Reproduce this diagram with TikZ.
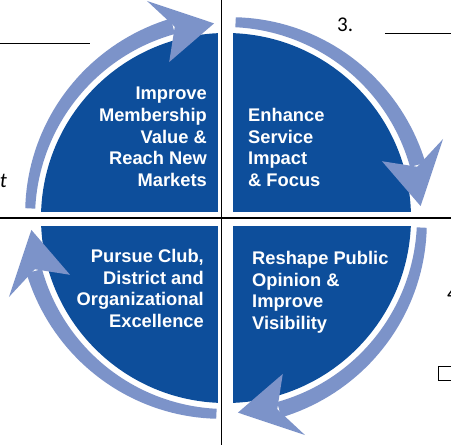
\documentclass[tikz,border=0pt]{standalone}
\usepackage{fontspec}
\setmainfont{Liberation Sans}
\newfontfamily\notefont{Carlito}
\definecolor{cycleblue}{RGB}{13,78,155}
\definecolor{ringblue}{RGB}{124,147,201}
\begin{document}
\begin{tikzpicture}[x=1pt,y=1pt,
    goal/.style={text=white,font=\bfseries\fontsize{18.3}{21.7}\selectfont,inner sep=0pt},
    ring/.style={fill=ringblue},
    gap/.style={fill=white},
    axis/.style={black,line width=1.2pt},
    blank/.style={black,line width=1pt},
    note/.style={font=\notefont\fontsize{21}{24}\selectfont,inner sep=0pt}]
    \useasboundingbox (-226,-227) rectangle (225,218);
    % disk split into four parts
    \fill[cycleblue](0,0) circle (185);
    \fill[gap](-8,-190) rectangle (7,190);
    \fill[gap](-190,-8) rectangle (190,6);
    % four arrows round the disk
    \fill[ring] plot[domain=177.2:105.5,samples=40] (\x:{201+6*(177.2-\x)/71.7}) -- (105.5:191) arc[start angle=105.5,end angle=177.2,radius=191] -- cycle;
    \fill[ring] (110:166) -- (93.5:195) -- (110:231) -- (105:198) -- cycle;
    \fill[ring] plot[domain=87.2:15.5,samples=40] (\x:{201+6*(87.2-\x)/71.7}) -- (15.5:191) arc[start angle=15.5,end angle=87.2,radius=191] -- cycle;
    \fill[ring] (20:166) -- (3.5:195) -- (20:231) -- (15:198) -- cycle;
    \fill[ring] plot[domain=-2.8:-74.5,samples=40] (\x:{201+6*(-2.8-\x)/71.7}) -- (-74.5:191) arc[start angle=-74.5,end angle=-2.8,radius=191] -- cycle;
    \fill[ring] (-70:166) -- (-86.5:195) -- (-70:231) -- (-75:198) -- cycle;
    \fill[ring] plot[domain=-92.8:-164.5,samples=40] (\x:{201+6*(-92.8-\x)/71.7}) -- (-164.5:191) arc[start angle=-164.5,end angle=-92.8,radius=191] -- cycle;
    \fill[ring] (-160:166) -- (-176.5:195) -- (-160:231) -- (-165:198) -- cycle;
    % cross lines
    \draw[axis](-4.5,-227) -- (-4.5,218);
    \draw[axis](-226,0) -- (225,0);
    % quadrant texts
    \node[goal,anchor=north east,align=right] (membership) at (-19,131) {Improve\\Membership\\Value \&\\Reach New\\Markets};
    \node[goal,anchor=north west,align=left] (service) at (22,110) {Enhance\\Service\\Impact\\\& Focus};
    \node[goal,anchor=north east,align=right] (excellence) at (-22,-31) {Pursue Club,\\District and\\Organizational\\Excellence};
    \node[goal,anchor=north west,align=left] (opinion) at (26,-33) {Reshape Public\\Opinion \&\\Improve\\Visibility};
    % bits of the page round it
    \node[note,anchor=base west] (three) at (111,187) {3.};
    \draw[blank](159,185) -- (230,185);
    \draw[blank](-230,175) -- (-136,175);
    \node[note,anchor=base east,font=\notefont\itshape\fontsize{21}{24}\selectfont] (tail) at (-219,31) {t};
    \node[note,anchor=base west] (four) at (221,-82) {4};
    \draw[blank](213,-148) rectangle (229,-162);
\end{tikzpicture}
\end{document}
